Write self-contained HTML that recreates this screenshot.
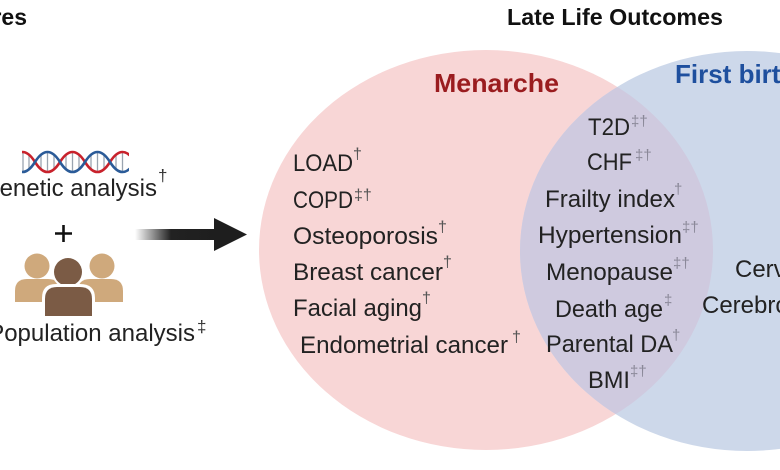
<!DOCTYPE html>
<html><head><meta charset="utf-8"><style>
html,body{margin:0;padding:0;background:#fff;}
svg{display:block;}
text{font-family:"Liberation Sans",Arial,sans-serif;}
</style></head><body>
<svg width="780" height="470" viewBox="0 0 780 470" xmlns="http://www.w3.org/2000/svg">
<defs>
<clipPath id="pk"><ellipse cx="486" cy="250" rx="227" ry="200"/></clipPath>
<clipPath id="dna"><rect x="22" y="140" width="107" height="40"/></clipPath>
<linearGradient id="ag" x1="135" y1="0" x2="215" y2="0" gradientUnits="userSpaceOnUse">
<stop offset="0" stop-color="#ffffff"/><stop offset="0.45" stop-color="#222"/><stop offset="1" stop-color="#1e1e1e"/>
</linearGradient>
</defs>
<rect width="780" height="470" fill="#fff"/>
<!-- Venn -->
<ellipse cx="486" cy="250" rx="227" ry="200" fill="#f8d6d6"/>
<ellipse cx="747" cy="251" rx="227" ry="200" fill="#cdd8ea"/>
<ellipse cx="747" cy="251" rx="227" ry="200" fill="#cfcadf" clip-path="url(#pk)"/>

<!-- headers -->
<text x="27" y="25" font-size="23" font-weight="bold" fill="#111" text-anchor="end">Exposures</text>
<text x="507" y="25" font-size="23" font-weight="bold" fill="#111" textLength="216" lengthAdjust="spacingAndGlyphs">Late Life Outcomes</text>
<text x="434" y="92" font-size="26" font-weight="bold" fill="#9a1c1f" textLength="125" lengthAdjust="spacingAndGlyphs">Menarche</text>
<text x="675" y="83" font-size="26" font-weight="bold" fill="#1e4f9e">First birth</text>

<!-- DNA -->
<g fill="none" stroke-width="2.6" clip-path="url(#dna)">
<g stroke="#9aa4b0" stroke-width="1.3">
<line x1="17" y1="155" x2="17" y2="169"/><line x1="23" y1="153" x2="23" y2="171"/><line x1="29" y1="155" x2="29" y2="169"/>
<line x1="41" y1="155" x2="41" y2="169"/><line x1="47.5" y1="153" x2="47.5" y2="171"/><line x1="54" y1="155" x2="54" y2="169"/>
<line x1="66" y1="155" x2="66" y2="169"/><line x1="72.5" y1="153" x2="72.5" y2="171"/><line x1="79" y1="155" x2="79" y2="169"/>
<line x1="91" y1="155" x2="91" y2="169"/><line x1="97.5" y1="153" x2="97.5" y2="171"/><line x1="104" y1="155" x2="104" y2="169"/>
<line x1="116" y1="155" x2="116" y2="169"/><line x1="122.5" y1="153" x2="122.5" y2="171"/>
</g>
<path d="M10 162 Q22.5 142 35 162 T60 162 T85 162 T110 162 T135 162" stroke="#c8222c"/>
<path d="M10 162 Q22.5 182 35 162 T60 162 T85 162 T110 162 T135 162" stroke="#2b5b98"/>
</g>

<text x="157" y="196" font-size="24" fill="#222" text-anchor="end">Genetic analysis</text>
<text x="158" y="181" font-size="17" fill="#333">†</text>

<!-- plus -->
<line x1="55" y1="233.5" x2="72" y2="233.5" stroke="#111" stroke-width="2.6"/>
<line x1="63.5" y1="225" x2="63.5" y2="242" stroke="#111" stroke-width="2.6"/>

<!-- people -->
<g>
<circle cx="37" cy="266" r="12.5" fill="#cfa97c"/>
<path d="M15 302 L15 291 Q15 279 27 279 L48 279 Q60 279 60 291 L60 302 Z" fill="#cfa97c"/>
<circle cx="102" cy="266" r="12.5" fill="#cfa97c"/>
<path d="M78 302 L78 291 Q78 279 90 279 L111 279 Q123 279 123 291 L123 302 Z" fill="#cfa97c"/>
<circle cx="68" cy="272" r="16" fill="#fff"/>
<circle cx="68" cy="272" r="14" fill="#7b5b45"/>
<path d="M42 318 L42 298 Q42 284 56 284 L80 284 Q95 284 95 298 L95 318 Z" fill="#fff"/>
<path d="M45 316 L45 299 Q45 287 57 287 L80 287 Q92 287 92 299 L92 316 Z" fill="#7b5b45"/>
</g>

<text x="195" y="341" font-size="24" fill="#222" text-anchor="end">Population analysis</text>
<text x="197" y="332" font-size="17" fill="#333">‡</text>

<!-- arrow -->
<rect x="135" y="229" width="82" height="11" fill="url(#ag)"/>
<polygon points="214,218 247,234.5 214,251" fill="#1e1e1e"/>

<!-- left list -->
<g font-size="24" fill="#222">
<text x="293" y="171" textLength="60" lengthAdjust="spacingAndGlyphs">LOAD</text>
<text x="293" y="208" textLength="60" lengthAdjust="spacingAndGlyphs">COPD</text>
<text x="293" y="244" textLength="145" lengthAdjust="spacingAndGlyphs">Osteoporosis</text>
<text x="293" y="280" textLength="150" lengthAdjust="spacingAndGlyphs">Breast cancer</text>
<text x="293" y="316" textLength="129" lengthAdjust="spacingAndGlyphs">Facial aging</text>
<text x="300" y="353" textLength="208" lengthAdjust="spacingAndGlyphs">Endometrial cancer</text>
</g>
<g font-size="16" fill="#555">
<text x="353" y="159">†</text>
<text x="354" y="200">‡†</text>
<text x="438" y="232">†</text>
<text x="443" y="267">†</text>
<text x="422" y="303">†</text>
<text x="512" y="342">†</text>
</g>

<!-- middle list -->
<g font-size="24" fill="#222">
<text x="588" y="135" textLength="42" lengthAdjust="spacingAndGlyphs">T2D</text>
<text x="587" y="170" textLength="45" lengthAdjust="spacingAndGlyphs">CHF</text>
<text x="545" y="207" textLength="130" lengthAdjust="spacingAndGlyphs">Frailty index</text>
<text x="538" y="243" textLength="144" lengthAdjust="spacingAndGlyphs">Hypertension</text>
<text x="546" y="280" textLength="127" lengthAdjust="spacingAndGlyphs">Menopause</text>
<text x="555" y="317" textLength="108" lengthAdjust="spacingAndGlyphs">Death age</text>
<text x="546" y="352" textLength="127" lengthAdjust="spacingAndGlyphs">Parental DA</text>
<text x="588" y="388" textLength="42" lengthAdjust="spacingAndGlyphs">BMI</text>
</g>
<g font-size="15" fill="#8a8898">
<text x="631" y="126">‡†</text>
<text x="635" y="160">‡†</text>
<text x="674" y="194">†</text>
<text x="682" y="232">‡†</text>
<text x="673" y="268">‡†</text>
<text x="664" y="305">‡</text>
<text x="672" y="340">†</text>
<text x="630" y="376">‡†</text>
</g>

<!-- right list -->
<g font-size="24" fill="#222">
<text x="735" y="277">Cervical cancer</text>
<text x="702" y="313">Cerebrovascular disease</text>
</g>
</svg>
</body></html>
